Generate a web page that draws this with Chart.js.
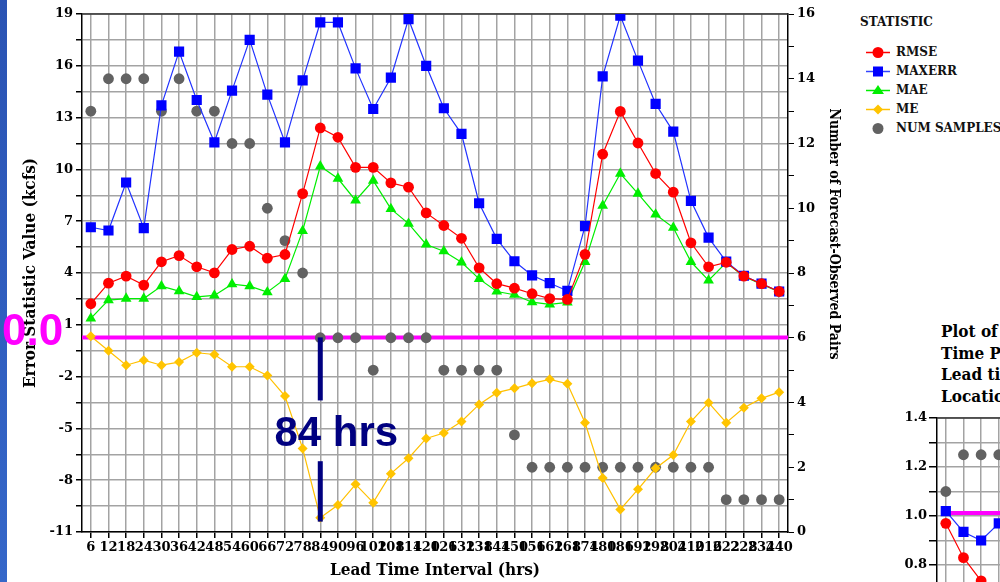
<!DOCTYPE html>
<html>
<head>
<meta charset="utf-8">
<script src="https://cdn.jsdelivr.net/npm/chart.js@4.4.1/dist/chart.umd.min.js"></script>
<style>
  html, body { margin: 0; padding: 0; width: 1000px; height: 582px; overflow: hidden; background: #fff; }
  #strip { position: absolute; left: 0; top: 0; width: 7px; height: 582px; background: linear-gradient(#2a53b3, #3567c9); }
  #main { position: absolute; left: 0; top: 0; }
  #inset { position: absolute; left: 860px; top: 400px; }
  #rightTitle { position: absolute; left: 683px; top: 224px; width: 300px; height: 20px; line-height: 20px;
    text-align: center; transform: rotate(90deg); font: bold 14px 'DejaVu Serif Condensed', 'DejaVu Serif', serif; color: #000; white-space: nowrap; }
  #legend { position: absolute; left: 860px; top: 0; width: 140px; height: 140px; font: bold 12px 'DejaVu Serif', serif; color: #111; }
  #legend .row { position: absolute; left: 5px; height: 19px; line-height: 19px; white-space: nowrap; }
  #legend svg { vertical-align: top; margin-right: 5px; }
  #insetTitle { position: absolute; left: 941px; top: 321px; font: bold 17px 'DejaVu Serif Condensed', 'DejaVu Serif', serif; line-height: 21.5px; white-space: nowrap; color: #000; }
</style>
</head>
<body>
<div id="strip"></div>
<canvas id="main" width="850" height="582"></canvas>
<div id="rightTitle">Number of Forecast-Observed Pairs</div>
<div id="legend">
  <div class="row" style="top:13px;left:0">STATISTIC</div>
  <div class="row" style="top:43px"><svg width="26" height="19"><line x1="1" y1="9.5" x2="25" y2="9.5" stroke="#ff0000" stroke-width="1.5"/><circle cx="13" cy="9.5" r="5.5" fill="#ff0000"/></svg>RMSE</div>
  <div class="row" style="top:62px"><svg width="26" height="19"><line x1="1" y1="9.5" x2="25" y2="9.5" stroke="#3344ff" stroke-width="1.5"/><rect x="8" y="4.5" width="10" height="10" fill="#0000ff"/></svg>MAXERR</div>
  <div class="row" style="top:81px"><svg width="26" height="19"><line x1="1" y1="9.5" x2="25" y2="9.5" stroke="#00ee00" stroke-width="1.5"/><polygon points="13,4 19,13 7,13" fill="#00ee00"/></svg>MAE</div>
  <div class="row" style="top:100px"><svg width="26" height="19"><line x1="1" y1="9.5" x2="25" y2="9.5" stroke="#ffc000" stroke-width="1.5"/><polygon points="13,4.5 18,9.5 13,14.5 8,9.5" fill="#ffc400"/></svg>ME</div>
  <div class="row" style="top:119px"><svg width="26" height="19"><circle cx="13" cy="9.5" r="5.5" fill="#626262"/></svg>NUM SAMPLES</div>
</div>
<div id="insetTitle">Plot of<br>Time Period<br>Lead times<br>Location</div>
<canvas id="inset" width="800" height="460"></canvas>
<script>
const LEADS = ['6','12','18','24','30','36','42','48','54','60','66','72','78','84','90','96','102','108','114','120',
  '126','132','138','144','150','156','162','168','174','180','186','192','198','204','210','216','222','228','234','240'];

const RMSE = [2.22, 3.41, 3.82, 3.3, 4.65, 5.01, 4.36, 4.01, 5.36, 5.55,
  4.86, 5.07, 8.6, 12.4, 11.86, 10.12, 10.12, 9.22, 8.97, 7.48,
  6.75, 6.01, 4.3, 3.38, 3.12, 2.8, 2.52, 2.47, 5.08, 10.88,
  13.36, 11.53, 9.76, 8.68, 5.75, 4.36, 4.62, 3.82, 3.38, 2.93];

const MAXERR = [6.65, 6.46, 9.24, 6.6, 13.71, 16.82, 14.02, 11.57, 14.56, 17.5,
  14.33, 11.57, 15.16, 18.51, 18.51, 15.85, 13.5, 15.31, 18.7, 16.0,
  13.54, 12.06, 8.04, 5.98, 4.68, 3.86, 3.41, 2.97, 6.71, 15.39,
  18.9, 16.3, 13.79, 12.19, 8.18, 6.05, 4.66, 3.84, 3.38, 2.93];

const MAE = [1.37, 2.43, 2.52, 2.52, 3.24, 2.95, 2.62, 2.7, 3.35, 3.24,
  2.89, 3.66, 6.44, 10.18, 9.47, 8.2, 9.35, 7.71, 6.86, 5.65,
  5.26, 4.62, 3.66, 2.93, 2.74, 2.31, 2.18, 2.3, 4.65, 7.9,
  9.76, 8.6, 7.39, 6.63, 4.65, 3.57, 4.6, 3.8, 3.35, 2.9];

const ME = [0.34, -0.5, -1.34, -1.05, -1.34, -1.16, -0.62, -0.72, -1.43, -1.43,
  -1.93, -3.13, -6.16, -10.17, -9.44, -8.24, -9.3, -7.62, -6.73, -5.58,
  -5.27, -4.6, -3.61, -2.93, -2.68, -2.39, -2.16, -2.41, -4.67, -7.87,
  -9.69, -8.53, -7.31, -6.54, -4.6, -3.51, -4.67, -3.8, -3.26, -2.9];

const SAMPLES = [13, 14, 14, 14, 13, 14, 13, 13, 12, 12,
  10, 9, 8, 6, 6, 6, 5, 6, 6, 6,
  5, 5, 5, 5, 3, 2, 2, 2, 2, 2,
  2, 2, 2, 2, 2, 2, 1, 1, 1, 1];

// second plot peeking in at the bottom right
const INSET_RMSE = [0.97, 0.83, 0.735];
const INSET_MAXERR = [1.02, 0.935, 0.90, 0.97];
const INSET_SAMPLES = [1.1, 1.25, 1.25, 1.25];

// overlay annotations (in axis units)
const ZERO_LINE = 0.27;
const INSET_ZERO_LINE = 1.012;
const MARK_LEAD = '84';
const MARK_BARS = [[0.27, -3.38], [-6.9, -10.4]];
const MARK_TEXT_VALUE = -6.04;

const TICK_FONT = { family: 'DejaVu Serif', weight: 'bold', size: 13 };
const TITLE_FONT = { family: "'DejaVu Serif Condensed', 'DejaVu Serif', serif", weight: 'bold', size: 17 };
const GRID = '#a3a3a3';

const overlay = {
    id: 'overlay',
    beforeDatasetsDraw(chart) {
        const { ctx, chartArea, scales } = chart;
        ctx.save();
        // top border
        ctx.strokeStyle = '#333';
        ctx.lineWidth = 1.5;
        ctx.beginPath();
        ctx.moveTo(chartArea.left, chartArea.top);
        ctx.lineTo(chartArea.right, chartArea.top);
        ctx.stroke();
        // magenta zero line
        const y0 = scales.y.getPixelForValue(ZERO_LINE);
        ctx.strokeStyle = '#ff00ff';
        ctx.lineWidth = 4;
        ctx.beginPath();
        ctx.moveTo(chartArea.left, y0);
        ctx.lineTo(chartArea.right, y0);
        ctx.stroke();
        ctx.restore();
    },
    afterDatasetsDraw(chart) {
        const { ctx, scales } = chart;
        const x = scales.x.getPixelForValue(LEADS.indexOf(MARK_LEAD));
        ctx.save();
        ctx.fillStyle = '#000080';
        MARK_BARS.forEach(([a, b]) => {
            const ya = scales.y.getPixelForValue(a);
            const yb = scales.y.getPixelForValue(b);
            ctx.fillRect(x - 2.5, ya, 5, yb - ya);
        });
        ctx.font = 'bold 42px "Liberation Sans", Arial, sans-serif';
        ctx.textAlign = 'center';
        ctx.textBaseline = 'alphabetic';
        ctx.fillText(MARK_LEAD + ' hrs', x + 16, scales.y.getPixelForValue(MARK_TEXT_VALUE));
        // "0.0" label on the left
        const y0 = scales.y.getPixelForValue(ZERO_LINE);
        ctx.fillStyle = '#ff00ff';
        ctx.font = 'bold 44px "Liberation Sans", Arial, sans-serif';
        ctx.textAlign = 'left';
        ctx.fillText('0.0', 2, y0 + 8);
        ctx.restore();
    }
};

new Chart(document.getElementById('main'), {
    type: 'line',
    data: {
        labels: LEADS,
        datasets: [
            { label: 'RMSE', data: RMSE, yAxisID: 'y', borderColor: '#ff0000', backgroundColor: '#ff0000',
              borderWidth: 1.2, pointStyle: 'circle', pointRadius: 5.4, pointBorderWidth: 0 },
            { label: 'MAXERR', data: MAXERR, yAxisID: 'y', borderColor: '#2233ff', backgroundColor: '#0000ff',
              borderWidth: 1.2, pointStyle: 'rect', pointRadius: 7.2, pointBorderWidth: 0 },
            { label: 'MAE', data: MAE, yAxisID: 'y', borderColor: '#00ee00', backgroundColor: '#00ee00',
              borderWidth: 1.2, pointStyle: 'triangle', pointRadius: 6.2, pointBorderWidth: 0 },
            { label: 'ME', data: ME, yAxisID: 'y', borderColor: '#ffc000', backgroundColor: '#ffc400',
              borderWidth: 1.2, pointStyle: 'rectRot', pointRadius: 5, pointBorderWidth: 0 },
            { label: 'NUM SAMPLES', data: SAMPLES, yAxisID: 'y2', showLine: false, borderColor: '#626262',
              backgroundColor: '#626262', pointStyle: 'circle', pointRadius: 5.4, pointBorderWidth: 0 }
        ]
    },
    options: {
        responsive: false,
        animation: false,
        layout: { padding: { top: 14, left: 0, right: 0, bottom: 0 } },
        plugins: { legend: { display: false }, tooltip: { enabled: false } },
        scales: {
            x: {
                offset: true,
                grid: { color: GRID, lineWidth: 1.5, tickColor: '#000', tickLength: 6 },
                border: { color: '#000', width: 1.5 },
                ticks: { autoSkip: false, maxRotation: 0, font: TICK_FONT, color: '#000', padding: 2 },
                title: { display: true, text: 'Lead Time Interval (hrs)', font: TITLE_FONT, color: '#000', padding: { top: 2, bottom: 1 } },
                afterFit: s => { s.height = 50; }
            },
            y: {
                position: 'left',
                min: -11, max: 19,
                grid: { color: GRID, lineWidth: 1.5, tickColor: '#000', tickLength: 6 },
                border: { color: '#000', width: 1.5 },
                ticks: { stepSize: 1.5, font: TICK_FONT, color: '#000', padding: 3,
                         callback: v => ((v + 11) % 3 === 0 ? v : '') },
                title: { display: true, text: 'Error Statistic Value (kcfs)', font: TITLE_FONT, color: '#000', padding: { top: 20, bottom: 0 } },
                afterFit: s => { s.width = 82; }
            },
            y2: {
                position: 'right',
                min: 0, max: 16,
                grid: { drawOnChartArea: false, tickColor: '#000', tickLength: 6 },
                border: { color: '#000', width: 1.5 },
                ticks: { stepSize: 1, font: TICK_FONT, color: '#000', padding: 3,
                         callback: v => (v % 2 === 0 ? v : '') },
                afterFit: s => { s.width = 62; }
            }
        }
    },
    plugins: [overlay]
});

const insetOverlay = {
    id: 'insetOverlay',
    beforeDatasetsDraw(chart) {
        const { ctx, chartArea, scales } = chart;
        ctx.save();
        ctx.strokeStyle = '#333';
        ctx.lineWidth = 1.5;
        ctx.beginPath();
        ctx.moveTo(chartArea.left, chartArea.top);
        ctx.lineTo(chartArea.right, chartArea.top);
        ctx.stroke();
        const y = scales.y.getPixelForValue(INSET_ZERO_LINE);
        ctx.strokeStyle = '#ff00ff';
        ctx.lineWidth = 4;
        ctx.beginPath();
        ctx.moveTo(scales.x.getPixelForValue(0), y);
        ctx.lineTo(chartArea.right, y);
        ctx.stroke();
        ctx.restore();
    }
};

new Chart(document.getElementById('inset'), {
    type: 'line',
    data: {
        labels: LEADS,
        datasets: [
            { label: 'RMSE', data: INSET_RMSE, borderColor: '#ff0000', backgroundColor: '#ff0000',
              borderWidth: 1.2, pointStyle: 'circle', pointRadius: 5.4, pointBorderWidth: 0 },
            { label: 'MAXERR', data: INSET_MAXERR, borderColor: '#2233ff', backgroundColor: '#0000ff',
              borderWidth: 1.2, pointStyle: 'rect', pointRadius: 7.2, pointBorderWidth: 0 },
            { label: 'NUM SAMPLES', data: INSET_SAMPLES, showLine: false, borderColor: '#626262',
              backgroundColor: '#626262', pointStyle: 'circle', pointRadius: 5.4, pointBorderWidth: 0 }
        ]
    },
    options: {
        responsive: false,
        animation: false,
        layout: { padding: { top: 18, left: 0, right: 17, bottom: 0 } },
        plugins: { legend: { display: false }, tooltip: { enabled: false } },
        scales: {
            x: {
                offset: true,
                grid: { color: GRID, lineWidth: 1.5, tickColor: '#000', tickLength: 6 },
                border: { color: '#000', width: 1.5 },
                ticks: { autoSkip: false, maxRotation: 0, font: TICK_FONT, color: '#000' },
                afterFit: s => { s.height = 50; }
            },
            y: {
                min: -0.2, max: 1.4,
                grid: { color: GRID, lineWidth: 1.5, tickColor: '#000', tickLength: 8 },
                border: { color: '#000', width: 1.5 },
                ticks: { stepSize: 0.1, font: TICK_FONT, color: '#000', padding: 2,
                         callback: v => (Math.round(v * 10) % 2 === 0 ? v.toFixed(1) : '') },
                afterFit: s => { s.width = 77; }
            }
        }
    },
    plugins: [insetOverlay]
});
</script>
</body>
</html>
